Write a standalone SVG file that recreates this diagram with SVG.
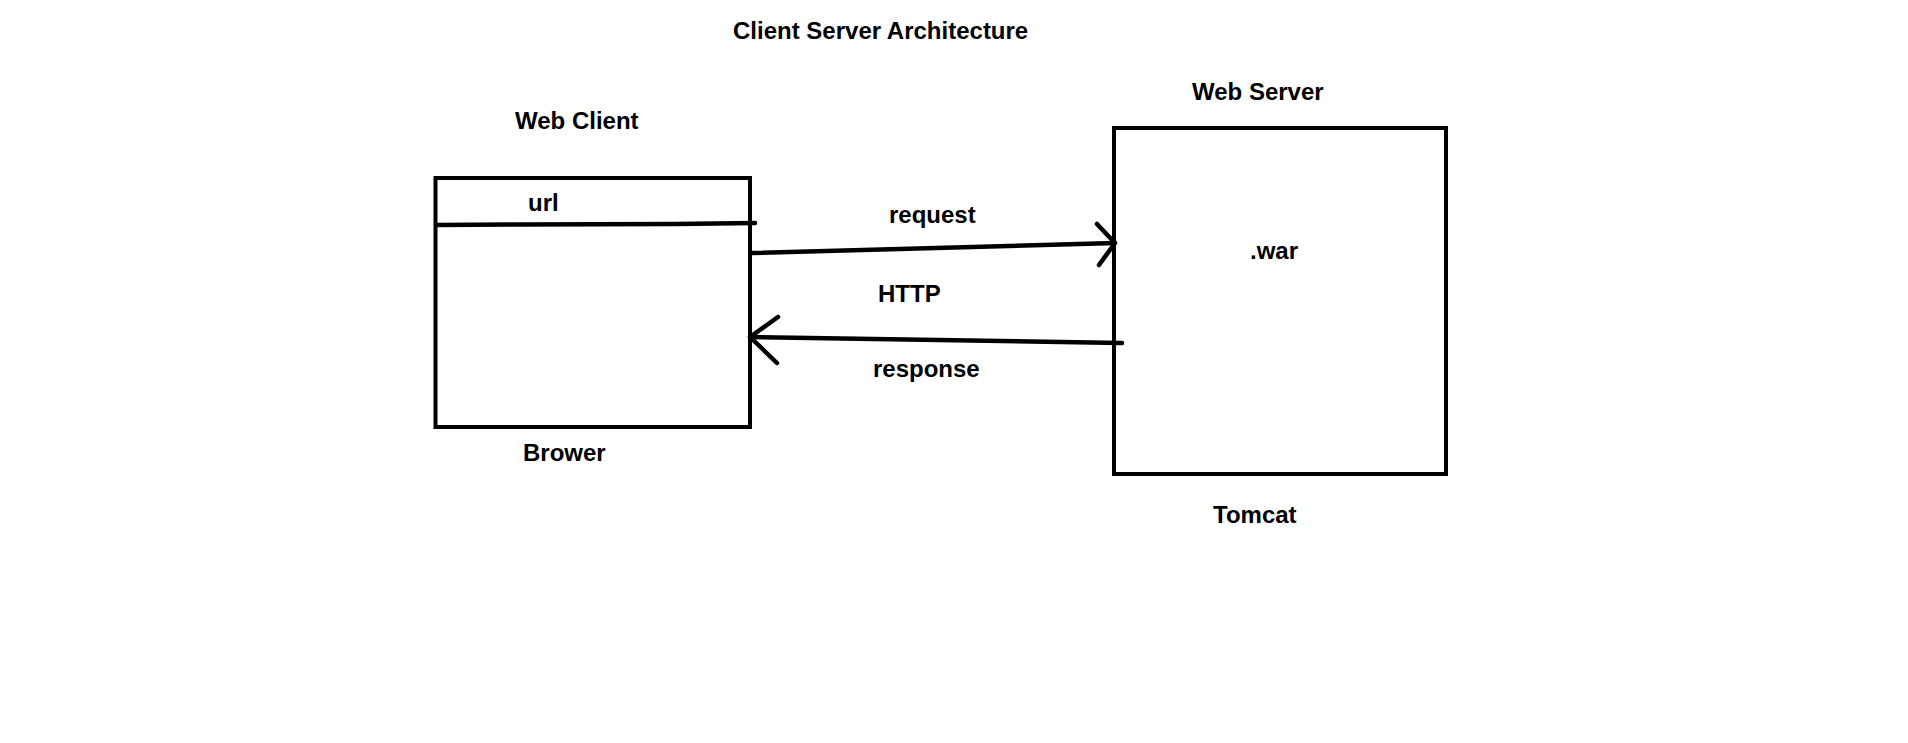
<svg xmlns="http://www.w3.org/2000/svg" width="1908" height="743" viewBox="0 0 1908 743">
<style>
text{font-family:"Liberation Sans",Arial,sans-serif;font-weight:bold;font-size:24px;fill:#000}
.box{fill:none;stroke:#000;stroke-width:4}
.ln{fill:none;stroke:#000;stroke-width:4.5;stroke-linecap:round;stroke-linejoin:round}
</style>
<rect width="1908" height="743" fill="#fff"/>
<text x="733" y="39">Client Server Architecture</text>
<g id="web-client">
<text x="515" y="129">Web Client</text>
<rect class="box" x="435.5" y="178" width="314.5" height="249"/>
<path class="ln" d="M436 225 L520 224.5 L675 224 L755 223"/>
<text x="528" y="211">url</text>
<text x="523" y="461">Brower</text>
</g>
<g id="web-server">
<text x="1192" y="100">Web Server</text>
<rect class="box" x="1114" y="128" width="332" height="346"/>
<text x="1250" y="259">.war</text>
<text x="1213" y="523">Tomcat</text>
</g>
<g id="connectors">
<path class="ln" d="M752 253 L1115 243"/>
<path class="ln" d="M1097 224 L1115 243 L1099 265"/>
<text x="889" y="223">request</text>
<text x="878" y="302">HTTP</text>
<path class="ln" d="M1122 343 L750 337"/>
<path class="ln" d="M778 317 L750 337 L777 363"/>
<text x="873" y="377">response</text>
</g>
</svg>
